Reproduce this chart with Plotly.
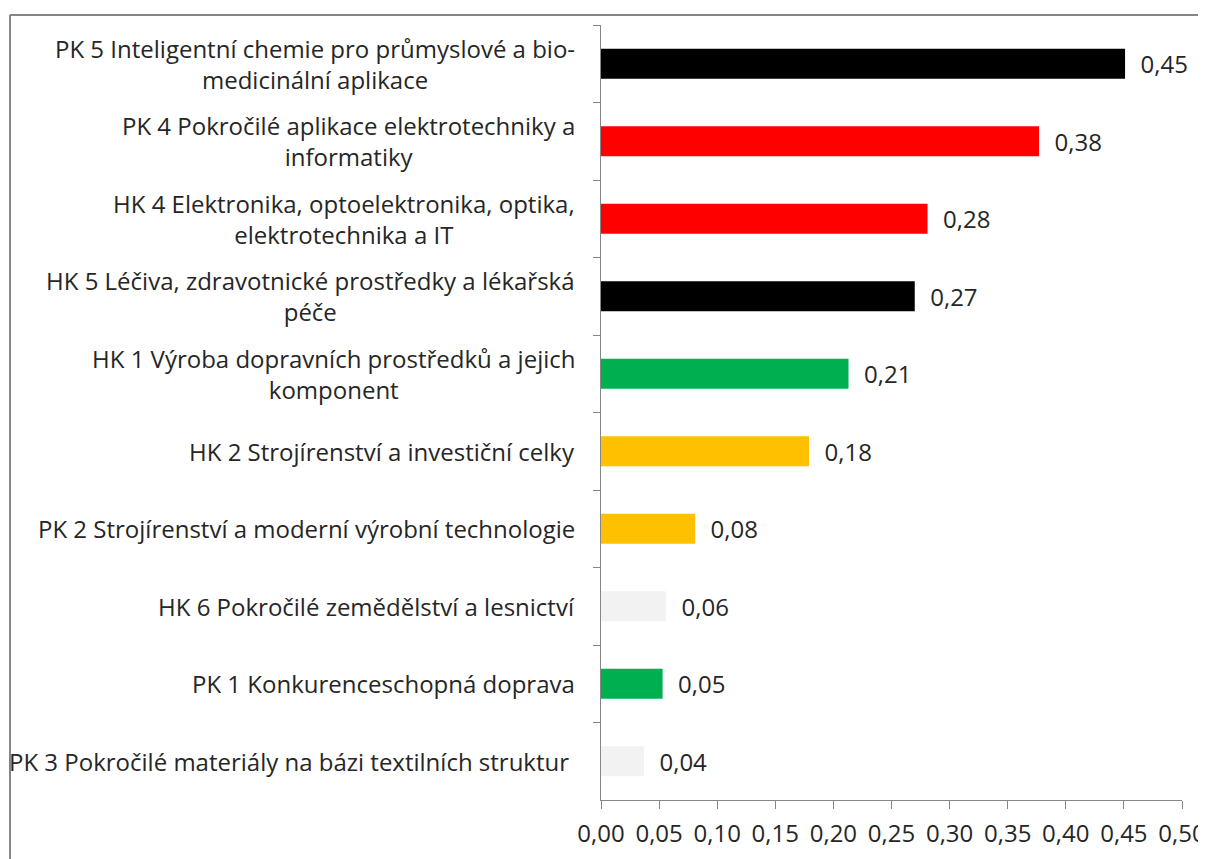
import plotly.graph_objects as go

categories = [
    "PK 5 Inteligentní chemie pro průmyslové a bio-<br>medicinální aplikace",
    "PK 4 Pokročilé aplikace elektrotechniky a<br>informatiky",
    "HK 4 Elektronika, optoelektronika, optika,<br>elektrotechnika a IT",
    "HK 5 Léčiva, zdravotnické prostředky a lékařská<br>péče",
    "HK 1 Výroba dopravních prostředků a jejich<br>komponent",
    "HK 2 Strojírenství a investiční celky",
    "PK 2 Strojírenství a moderní výrobní technologie",
    "HK 6 Pokročilé zemědělství a lesnictví",
    "PK 1 Konkurenceschopná doprava",
    "PK 3 Pokročilé materiály na bázi textilních struktur\u00a0",
]
values = [0.451, 0.377, 0.281, 0.270, 0.213, 0.179, 0.081, 0.056, 0.053, 0.037]
bar_colors = ["#000000", "#FF0000", "#FF0000", "#000000", "#00B050",
              "#FFC000", "#FFC000", "#F2F2F2", "#00B050", "#F2F2F2"]
x_ticks = [0.0, 0.05, 0.10, 0.15, 0.20, 0.25, 0.30, 0.35, 0.40, 0.45, 0.50]

FONT = "Open Sans"
FS = 24
TXT = "#262626"
AX = "#868686"

OFF = 8  # page body margin
W, H = 1206 - OFF, 859 - OFF
L, T = 601 - OFF, 25 - OFF
R = W - (1182 - OFF)
B = H - (800 - OFF)
pw, ph = W - L - R, H - T - B

def fmt(v):
    return f"{v:.2f}".replace(".", ",")

fig = go.Figure(go.Bar(
    x=values, y=categories, orientation="h",
    marker=dict(color=bar_colors, line=dict(width=0)),
    text=["\u00a0\u00a0" + fmt(v) for v in values],
    textposition="outside",
    constraintext="none",
    textfont=dict(family=FONT, size=FS, color=TXT),
    cliponaxis=False,
))

annotations = [
    dict(x=(577 - 601) / pw, xref="paper", y=c, yref="y", text=c,
         xanchor="right", yanchor="middle", align="center", showarrow=False,
         font=dict(family=FONT, size=FS, color=TXT))
    for c in categories
]

top_y = 1 + (25 - 15) / ph
left_x = (10 - 601) / pw
shapes = [
    dict(type="line", xref="paper", yref="paper",
         x0=left_x, x1=(1220 - 601) / pw, y0=top_y, y1=top_y,
         line=dict(color=AX, width=2)),
    dict(type="line", xref="paper", yref="paper",
         x0=left_x, x1=left_x, y0=top_y, y1=-(880 - 800) / ph,
         line=dict(color=AX, width=2)),
]

fig.update_layout(
    width=W, height=H,
    margin=dict(l=L, r=R, t=T, b=B, autoexpand=False),
    paper_bgcolor="white", plot_bgcolor="white",
    bargap=0.61,
    showlegend=False,
    annotations=annotations,
    shapes=shapes,
    font=dict(family=FONT, size=FS, color=TXT),
    xaxis=dict(range=[0, 0.5], tickvals=x_ticks, ticktext=[fmt(v) for v in x_ticks],
               showgrid=False, zeroline=False, showline=True, linecolor=AX, linewidth=1,
               ticks="outside", ticklen=8, tickcolor=AX, tickwidth=1,
               ticklabelstandoff=4,
               tickfont=dict(family=FONT, size=FS, color=TXT)),
    yaxis=dict(autorange="reversed", showticklabels=False, showgrid=False, zeroline=False,
               showline=True, linecolor=AX, linewidth=1,
               ticks="outside", tickson="boundaries", ticklen=7, tickcolor=AX, tickwidth=1),
)

fig.write_html("out.html")
